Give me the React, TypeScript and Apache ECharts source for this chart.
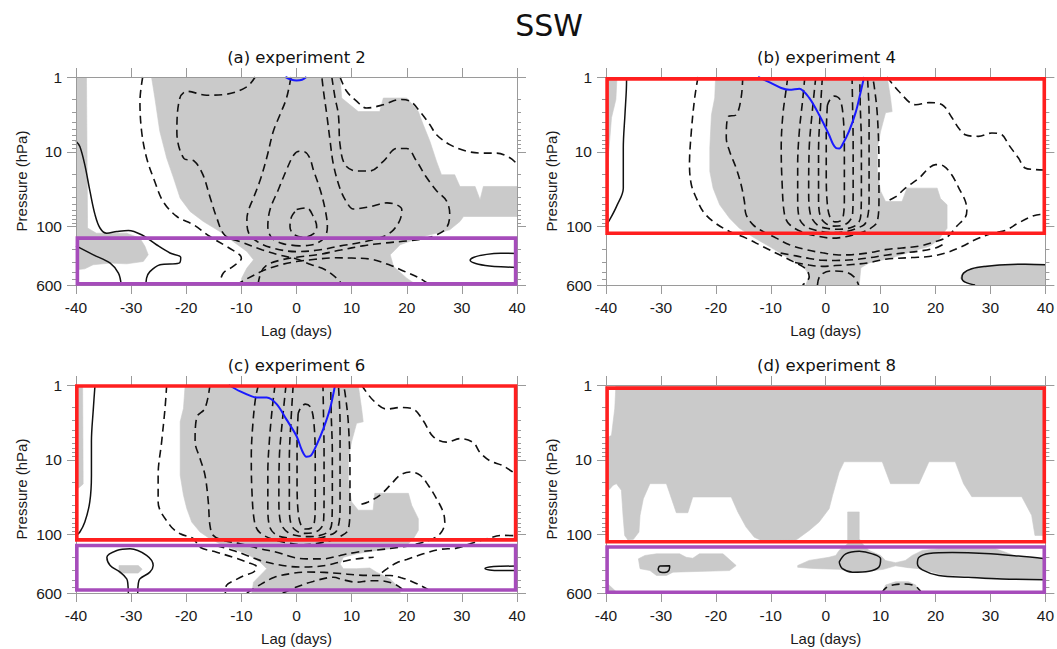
import React, { useEffect, useRef } from "react";
import * as echarts from "echarts";

// Axis ranges
const LAG_MIN = -40;
const LAG_MAX = 40;
const LAG_STEP = 10;
const P_MIN = 1;
const P_MAX = 600;
const MINOR_PRESSURES = [2, 3, 4, 5, 6, 7, 8, 9, 20, 30, 40, 50, 60, 70, 80, 90, 200, 300, 400, 500];

// ---------- (a) experiment 2 : [lag (days), pressure (hPa)] ----------
const aShadeLeft = [[-40, 1], [-38.1, 1], [-37.9, 104], [-36.3, 122], [-30.8, 122], [-28.4, 142], [-27.5, 182], [-26.9, 237], [-27.8, 291], [-30.8, 313], [-33.8, 306], [-36.9, 322], [-38.4, 365], [-40, 376]];
const aShadeMain = [[-26.3, 1], [-25.7, 1.9], [-24.8, 5.3], [-23.55, 12.1], [-22.3, 22.4], [-21.1, 41.5], [-19.3, 62.5], [-16.9, 85], [-13.9, 116], [-11.5, 157], [-9, 214], [-7.8, 277], [-9, 357], [-9.95, 486], [-9.95, 600], [21.8, 600], [20, 486], [17.6, 339], [17, 237], [18.8, 174], [23, 135], [27.8, 110], [29.65, 85], [30.3, 73], [40, 73], [40, 29], [33.9, 29], [33.3, 43.6], [32.4, 29], [29.65, 29], [28.7, 20.2], [26.3, 20.2], [25.4, 13.4], [24.2, 7.2], [23, 4.35], [22.1, 2.9], [20, 1.91], [15.75, 1.91], [15.1, 2.9], [11.2, 2.9], [8.2, 1.91], [7.9, 1]];
const aSolid1 = [[-40, 7.2], [-39.3, 8.45], [-38.4, 14.9], [-37.46, 33.8], [-36.55, 69], [-35.65, 104], [-34.44, 122], [-32.6, 116], [-30.5, 112], [-28.1, 128], [-25.4, 174], [-22.95, 224], [-21, 257], [-21.3, 306], [-24.76, 322], [-26.6, 398], [-27.2, 486], [-27.3, 600]];
const aSolid2 = [[-40, 180], [-36.85, 237], [-33.8, 306], [-32.3, 417], [-31.8, 600]];
const aSolid3 = [[40, 228], [37, 226], [34.5, 234], [32.2, 255], [31.5, 280], [32.5, 310], [35, 335], [38, 345], [40, 350]];
const aDash1 = [[-27.9, 1], [-28.4, 2.1], [-28.1, 5.3], [-27.2, 12], [-25.7, 25], [-24.2, 46], [-21.7, 73], [-18.7, 94], [-15.7, 135], [-12.7, 183], [-10.3, 237], [-10, 263], [-11.5, 339], [-13.3, 417], [-14, 600]];
const aDash2 = [[-7.5, 1], [-9, 1.35], [-12.7, 1.7], [-16.3, 1.75], [-19.9, 1.55], [-21.2, 1.95], [-21.7, 5.5], [-20.4, 12.3], [-18.6, 13.2], [-17, 20], [-15.7, 40], [-14.5, 75], [-13, 130], [-10, 160], [-6.3, 203], [-3, 240], [0, 270], [2.7, 322], [5.2, 376], [7.6, 511], [8.3, 600]];
const aDash3 = [[-11, 600], [-9.3, 510], [-5.7, 376], [-2.7, 320], [0, 292], [3.4, 272], [7, 260], [10, 262], [13.6, 272], [16.7, 320], [19.4, 390], [22.4, 490], [24.2, 600]];
const aDash4 = [[-1, 1], [-1.8, 1.9], [-3, 3.2], [-4.2, 5.3], [-5.4, 12], [-6.6, 24], [-7.8, 41], [-8.7, 60], [-9, 80], [-8.7, 120], [-7, 160], [-4, 195], [0, 215], [4, 205], [8, 180], [12, 160], [15.75, 135], [17.6, 110], [18.8, 80], [19.1, 59], [18.2, 51], [16.4, 48], [13.3, 54], [10.3, 58], [9.1, 47], [7.9, 31], [6.7, 14.8], [6.1, 7.2], [5.5, 3.2], [4.9, 1.55], [4.6, 1]];
const aDash5 = [[7.9, 1], [9.1, 1.55], [10.9, 2.1], [12.7, 2.6], [15.75, 2.35], [18.8, 2.0], [20.6, 2.1], [22.4, 2.9], [24.2, 4.35], [25.4, 5.9], [27.8, 8], [30.9, 9.8], [33.9, 10.4], [36.3, 10.4], [38.7, 12], [40, 14.5]];
const aDash6 = [[6.4, 1], [7, 1.9], [7.6, 3.2], [7.9, 8], [8.8, 14.8], [10.9, 18], [13.3, 18], [15.75, 13.4], [18.2, 9], [20, 9], [21.8, 13.4], [23.6, 22], [25.4, 33], [27.2, 45], [27.8, 68], [27.2, 104], [25.4, 128], [23, 145], [20, 155], [16, 165], [12, 180], [8, 205], [4, 235], [0, 255], [-3, 280], [-5.5, 330], [-6.5, 420], [-7, 600]];
const aDash7 = [[0.5, 180], [-2.5, 168], [-4.5, 140], [-5.2, 99], [-4.8, 59], [-3.3, 32], [-1.8, 17.3], [-0.5, 11], [0.5, 9.8], [1.5, 10], [2.4, 12], [3.05, 17.3], [4.3, 32], [5.2, 59], [5.6, 99], [5.2, 135], [3.8, 165], [2, 178], [0.5, 180]];
const aDash8 = [[0.03, 59], [1.84, 56], [3.05, 73], [3.66, 100], [3.05, 125], [1.24, 138], [-0.57, 125], [-1.18, 100], [-0.88, 73], [0.03, 59]];
const aBlue = [[-2, 1], [-1, 1.08], [0, 1.11], [1, 1.09], [1.8, 1]];
const aTropBox = [-39.75, 39.75, 142, 580];

// ---------- (b) experiment 4 ----------
const bShadeLeft = [[-40, 1], [-38, 1], [-38.2, 2], [-39, 3.5], [-39.5, 10], [-39.8, 60], [-40, 100]];
const bShadeMain = [[-20.05, 1], [-20.2, 1.9], [-20.8, 3.2], [-21.1, 8.9], [-21.1, 18.2], [-20.5, 30.5], [-19.3, 51], [-17.5, 77], [-15.7, 105], [-13.3, 136], [-10.25, 184], [-7.2, 251], [-4.2, 325], [-3, 443], [-3.6, 600], [6.1, 600], [6.4, 354], [7.9, 304], [12.1, 260], [15.75, 212], [18.8, 184], [20.6, 149], [21.2, 128], [22.1, 105], [22.1, 51], [20.9, 42], [20.3, 30.5], [14.8, 30.5], [13.9, 46], [10.9, 46], [10, 33.5], [9.4, 18.2], [9.4, 8.9], [10, 5.3], [10.9, 3], [12.1, 2.9], [11.8, 1.9], [11.2, 1]];
const bShadeOval = [[40, 318], [36.3, 312], [32.7, 318], [29, 333], [26.6, 358], [25, 410], [24.5, 486], [25.2, 550], [27, 600], [40, 600]];
const bSolid1 = [[-36.25, 1], [-36.3, 1.5], [-36.55, 3.2], [-36.85, 8.9], [-36.85, 30.5], [-38.06, 53], [-39.3, 80], [-40, 97]];
const bSolid2 = [[40, 322], [36.3, 316], [32.7, 322], [29.05, 339], [26.6, 365], [25.1, 417], [24.8, 486], [25.4, 550], [27.2, 600]];
const bDash1 = [[-23.25, 1], [-23.85, 1.9], [-24.46, 5.3], [-24.8, 14.8], [-24.46, 27.5], [-23.55, 41.5], [-22.35, 62], [-20.5, 85], [-17.5, 116], [-14.5, 142], [-11.5, 183], [-8.4, 237], [-6, 290], [-3.6, 367], [-3, 470], [-4.2, 600]];
const bDash2 = [[-15.1, 1], [-15.4, 1.9], [-16.3, 3.2], [-17.8, 3.4], [-18.1, 6.5], [-17.5, 9.8], [-16.3, 16.5], [-15.4, 27.5], [-14.8, 46], [-14.5, 68.5], [-13.3, 93], [-11.5, 115], [-9, 142], [-6.6, 174], [-3.6, 202], [-0.6, 223], [2.4, 238], [4.9, 236], [7.9, 223], [10.9, 202], [13.9, 192], [17, 182], [20, 158], [21.8, 142], [22.7, 125], [23.9, 98], [25.4, 75], [25.7, 61], [25.4, 45], [24.2, 30], [23, 20.5], [21.5, 15.5], [20, 14.8], [18.8, 16.4], [17, 22.4], [14.5, 30.5], [12.7, 40], [10.9, 46]];
const bDash3 = [[11.2, 1], [13.3, 1.55], [16.4, 2.35], [18.8, 2.2], [21.2, 2.35], [23, 3.5], [24.2, 4.8], [25.4, 5.9], [27.8, 6.2], [30.25, 5.6], [32.1, 5.9], [33.3, 8], [35.1, 12.1], [36.3, 16.4], [38.1, 17.2], [40, 17.5]];
const bDash4 = [[-5.6, 300], [-3, 325], [-0.6, 338], [1.8, 330], [4.9, 320], [7.9, 302], [10.9, 272], [15.75, 258], [18.8, 250], [21.8, 225], [24.8, 184], [27.2, 149], [30.3, 122], [32.7, 112], [35.1, 89], [37.5, 73], [39, 68.5], [40, 70]];
const bDash5 = [[-8.2, 225], [-5.4, 245], [-3, 265], [-0.6, 280], [1.8, 282], [4.9, 276], [7.9, 260], [10.9, 240], [13.9, 225], [17, 212], [20, 192], [21.5, 170]];
const bDash6 = [[-1.5, 600], [-1, 450], [1, 390], [3.5, 400], [5.2, 470], [6, 600]];
const bU1 = [[-6.9, 1], [-7.2, 1.47], [-7.8, 3.2], [-8.1, 8.9], [-7.95, 24.6], [-7.5, 68.5], [-6.6, 93], [-4.2, 118], [-1.2, 135], [1.2, 142], [3.65, 136], [6.1, 122], [7.9, 108], [9.4, 85], [9.7, 41.5], [9.7, 14.8], [9.4, 3.2], [8.8, 1.27], [8.5, 1]];
const bU2 = [[-3.8, 1], [-4.2, 2.05], [-4.8, 5.3], [-5.1, 14.8], [-5.1, 41.5], [-4.8, 77], [-3.6, 100], [-1.2, 114], [1.2, 120], [3.65, 116], [5.5, 106], [7.3, 88], [7.9, 41.5], [7.9, 14.8], [7.9, 3.2], [7.6, 1]];
const bU3 = [[-1.8, 1], [-2.5, 3.2], [-3, 8.9], [-3.1, 33], [-2.8, 68], [-1.5, 95], [0.5, 106], [2.5, 108], [4.5, 103], [5.9, 90], [6.4, 70], [6.5, 30], [6.5, 8], [6.3, 2.5], [6.2, 1]];
const bU4 = [[-0.6, 1], [-1, 3], [-1.3, 10], [-1.3, 40], [-1, 72], [0, 90], [1.5, 98], [3, 96], [4.2, 86], [4.9, 68], [5, 30], [5, 8], [4.9, 2.5], [4.8, 1]];
const bU5 = [[0.3, 2.4], [0.1, 6], [0.1, 20], [0.3, 50], [0.8, 75], [1.7, 86], [2.6, 84], [3.2, 72], [3.4, 40], [3.4, 10], [3.2, 3.5], [2.6, 2], [1.6, 1.8], [0.8, 2], [0.3, 2.4]];
const bBlue = [[-12.3, 1], [-10, 1.2], [-8.1, 1.4], [-6.6, 1.48], [-4.8, 1.43], [-3, 1.9], [-1.2, 3.2], [0.6, 5.9], [1.3, 7.8], [1.9, 8.9], [2.5, 9], [3.05, 8], [4.26, 5.3], [5.5, 2.9], [6.4, 1.55], [7, 1]];
const bStratBox = [-39.8, 39.8, 1.06, 122];

// ---------- (c) experiment 6 ----------
const cShadeLeft = [[-40, 1], [-38.8, 1], [-38.7, 21], [-39.3, 23], [-40, 25]];
const cShadeMain = [[-20.2, 1], [-20.5, 2.05], [-21.1, 3.1], [-21.1, 16], [-20.5, 29.7], [-19.9, 44.7], [-19, 67.8], [-17.5, 92], [-15.7, 113], [-13.9, 132], [-11.5, 154], [-9, 180], [-6.6, 232], [-5.4, 284], [-6.6, 350], [-7.8, 430], [-8.1, 600], [18.8, 600], [18.8, 527], [17, 390], [14.5, 316], [13.3, 278], [10.9, 284], [8.5, 284], [7.9, 246], [8.5, 200], [10.9, 180], [14.5, 162], [17, 154], [20, 139], [21.2, 113], [22.1, 87.6], [22.1, 61], [20.9, 40.4], [20.3, 28], [14.2, 28], [13.9, 47], [11.2, 47], [10, 36.5], [9.4, 19.7], [9.4, 9.6], [10, 5.7], [10.9, 3.25], [12.1, 3.1], [11.8, 2.05], [11.2, 1]];
const cShadeBlob = [[-32.2, 258], [-28.7, 258], [-28, 288], [-28.7, 325], [-32.2, 325]];
const cSolid1 = [[-36.55, 1], [-36.85, 2.05], [-37.2, 5.7], [-37.2, 16], [-37.5, 36.5], [-38.4, 67.8], [-39.3, 92], [-40, 102]];
const cSolid2 = [[-30.5, 600], [-30.6, 450], [-30.8, 388], [-32, 316], [-33.8, 258], [-34.4, 200], [-32.6, 162], [-30.2, 154], [-27.2, 189], [-26, 258], [-26.6, 316], [-28.4, 388], [-28.7, 450], [-28.8, 600]];
const cSolid3 = [[40, 262], [37, 264], [35, 270], [34.2, 282], [35, 295], [37, 300], [40, 300]];
const cDash1 = [[-23.55, 1], [-23.85, 2.05], [-24.46, 5.7], [-25.1, 16], [-25.1, 36.5], [-22.95, 75], [-21.1, 97], [-18.7, 113], [-17.5, 147], [-14.5, 171], [-11.5, 200], [-9, 232], [-7.2, 270], [-7.8, 316], [-9.5, 350], [-11, 400], [-12.7, 475], [-12.9, 600]];
const cDash2 = [[-15.7, 1], [-16.6, 2.05], [-18.1, 2.7], [-18.4, 5.7], [-17.5, 9.6], [-16.6, 16], [-16, 36.5], [-15.7, 75], [-15.1, 102], [-13.3, 119], [-10.25, 132], [-6.6, 154], [-3.6, 171], [-0.6, 200], [1.8, 210], [4.9, 210], [7.9, 189], [10.9, 171], [14.5, 160], [18.5, 148], [21.5, 135], [24.8, 113], [26.3, 92], [26.9, 68], [26.6, 49.6], [25.4, 33], [23.9, 21.8], [22.4, 16], [20.6, 14.5], [18.8, 16], [17, 21.8], [15.1, 29.7], [13, 36.5], [11.2, 40.4]];
const cDash3 = [[11.8, 1], [13.9, 1.6], [16.4, 2.1], [18.8, 2.0], [21.2, 2.1], [23, 3.0], [24.8, 4.9], [27.2, 5.8], [29.7, 5.2], [32.1, 5.9], [33.3, 8.0], [35.1, 10.3], [37.5, 12], [40, 16]];
const cDash4 = [[-14.5, 140], [-11.5, 162], [-9, 189], [-6.6, 220], [-4.2, 244], [-1.8, 262], [0.6, 270], [3, 268], [5.5, 255], [7.9, 232], [10, 215], [12, 205], [14, 200]];
const cDash5 = [[-9, 600], [-6.5, 460], [-4, 370], [-1, 330], [2, 315], [5, 318], [8, 330], [11, 345], [14, 350], [17, 350], [19, 375], [21.2, 430], [23.6, 527], [24.5, 600]];
const cDash6 = [[-2.5, 600], [0, 500], [3, 420], [6.7, 370], [8.5, 400], [10.9, 430], [13.3, 412], [15.1, 412], [17.6, 450], [19, 520], [19.5, 600]];
const cDash7 = [[15.5, 320], [16.4, 285], [18.2, 237], [20, 214], [23, 180], [26, 157], [29, 151], [31.5, 132], [34.5, 113], [37.5, 102], [40, 103]];
const cU1 = [[-6.9, 1], [-7.4, 1.45], [-7.9, 3.2], [-8.2, 8.9], [-8.1, 24.6], [-7.6, 68.5], [-6.7, 93], [-4.2, 116], [-1.2, 130], [1.2, 136], [3.65, 131], [6.1, 120], [7.9, 106], [9.4, 85], [9.7, 41.5], [9.7, 14.8], [9.4, 3.2], [8.8, 1.27], [8.5, 1]];
const cU2 = [[-3.9, 1], [-4.4, 2.05], [-4.9, 5.3], [-5.2, 14.8], [-5.2, 41.5], [-4.9, 77], [-3.7, 100], [-1.2, 112], [1.2, 117], [3.65, 113], [5.5, 104], [7.3, 88], [7.9, 41.5], [7.9, 14.8], [7.9, 3.2], [7.6, 1]];
const cU3 = [[-1.9, 1], [-2.6, 3.2], [-3.1, 8.9], [-3.2, 33], [-2.9, 68], [-1.5, 94], [0.5, 104], [2.5, 106], [4.5, 101], [5.9, 89], [6.4, 70], [6.5, 30], [6.5, 8], [6.3, 2.5], [6.2, 1]];
const cU4 = [[-0.6, 1], [-1, 3], [-1.3, 10], [-1.3, 40], [-1, 72], [0, 89], [1.5, 96], [3, 94], [4.2, 85], [4.9, 68], [5, 30], [5, 8], [4.9, 2.5], [4.8, 1]];
const cU5 = [[0.3, 2.4], [0.1, 6], [0.1, 20], [0.3, 50], [0.8, 74], [1.7, 84], [2.6, 82], [3.2, 71], [3.4, 40], [3.4, 10], [3.2, 3.5], [2.6, 2], [1.6, 1.8], [0.8, 2], [0.3, 2.4]];
const cBlue = [[-12.3, 1], [-10.2, 1.22], [-8.1, 1.42], [-7.2, 1.47], [-5.4, 1.47], [-3.6, 1.8], [-1.8, 2.9], [0, 4.8], [1, 7.5], [1.8, 9.1], [2.6, 8.8], [3.65, 6.3], [4.9, 3.8], [6.1, 2.05], [7, 1]];
const cStratBox = [-39.85, 39.75, 1.03, 117];
const cTropBox = [-39.85, 39.75, 139, 548];

// ---------- (d) experiment 8 ----------
const dShadeTop = [[-38.2, 1], [40, 1], [40, 102], [38.1, 102], [37.5, 55], [35.7, 31], [26.6, 31], [25.1, 20.8], [23.6, 10.6], [18.8, 10.6], [17, 20.8], [11.8, 20.8], [10.3, 10.6], [3.35, 10.6], [2.45, 14.5], [1.24, 30], [0.63, 44.8], [-1.2, 67.8], [-3, 87.6], [-5.4, 118], [-11.5, 121], [-13, 108], [-14.5, 79], [-16, 49.6], [-17.2, 31.3], [-24.2, 31.3], [-25.1, 50.8], [-27.2, 50.8], [-29, 20.8], [-32, 20.8], [-33.2, 33], [-33.8, 55], [-34, 92], [-35, 115], [-36, 118], [-36.6, 102], [-36.9, 55], [-37.2, 25.5], [-38.1, 20.8], [-38.7, 21.8], [-40, 28], [-40, 5.2], [-39, 4.7], [-38.4, 2.05]];
const dShadeBandLeft = [[-34.1, 210], [-32.9, 189], [-30.8, 180], [-26.6, 180], [-25.4, 200], [-24.2, 206], [-23, 180], [-18.7, 180], [-16.3, 258], [-17.5, 301], [-27.8, 316], [-29, 350], [-30.8, 350], [-32, 301], [-33.8, 284]];
const dShadeBandRight = [[-5.1, 258], [-3, 220], [0.6, 200], [1.84, 189], [2.45, 162], [4, 132], [4, 49.6], [6.1, 49.6], [6.1, 113], [6.7, 132], [7.9, 162], [10, 189], [10.9, 221], [12.7, 236], [14.5, 221], [15.75, 189], [17.6, 162], [20.6, 154], [30.9, 154], [32.7, 171], [35.1, 200], [40, 210], [40, 398], [29, 390], [26, 350], [21.8, 350], [17, 284], [15, 275], [12.7, 260], [10.5, 290], [7.9, 305], [4.9, 310], [2.45, 290], [-1.18, 284], [-3, 280], [-5.1, 272]];
const dShadeCorner = [[-40, 430], [-38, 590], [-40, 590]];
const dShadeBump = [[10.3, 600], [10.9, 470], [12.7, 425], [15.1, 425], [16.4, 470], [17, 600]];
const dSolid1 = [[-30.3, 262], [-28.4, 260], [-28.5, 295], [-29.3, 320], [-30, 318], [-30.5, 290], [-30.3, 262]];
const dSolid2 = [[2.45, 232], [3.65, 180], [6.1, 166], [8.5, 180], [10, 210], [9.7, 270], [7.9, 307], [4.9, 316], [3.05, 284], [2.45, 232]];
const dSolid3 = [[40, 210], [35.1, 193], [29, 178], [23, 173], [18.8, 178], [17, 200], [16.7, 243], [17.6, 295], [20.6, 350], [26, 370], [32.1, 390], [40, 398]];
const dDash1 = [[10.2, 600], [11, 510], [12.5, 465], [14.5, 455], [16.2, 480], [17.2, 560], [17.4, 600]];
const dStratBox = [-39.8, 39.8, 1.1, 124];
const dTropBox = [-39.8, 39.8, 146, 586];

// ---------- styling ----------
const SHADE = "#cacaca";
const AXIS_COLOR = "#9a9a9a";
const TEXT_COLOR = "#1a1a1a";
const RED = "#ff1f1f";
const PURPLE = "#a64cbb";
const BLUE = "#1a1aff";
const LABEL_FONT = "Liberation Sans";
const TITLE_FONT = "DejaVu Sans";
const DASH = [8, 5];

const panels = [
  {
    title: "(a) experiment 2",
    shades: [aShadeLeft, aShadeMain],
    solids: [aSolid1, aSolid2, aSolid3],
    dashes: [aDash1, aDash2, aDash3, aDash4, aDash5, aDash6, aDash7, aDash8],
    blue: aBlue,
    boxes: [{ box: aTropBox, color: PURPLE }],
  },
  {
    title: "(b) experiment 4",
    shades: [bShadeLeft, bShadeMain, bShadeOval],
    solids: [bSolid1, bSolid2],
    dashes: [bDash1, bDash2, bDash3, bDash4, bDash5, bDash6, bU1, bU2, bU3, bU4, bU5],
    blue: bBlue,
    boxes: [{ box: bStratBox, color: RED }],
  },
  {
    title: "(c) experiment 6",
    shades: [cShadeLeft, cShadeMain, cShadeBlob],
    solids: [cSolid1, cSolid2, cSolid3],
    dashes: [cDash1, cDash2, cDash3, cDash4, cDash5, cDash6, cDash7, cU1, cU2, cU3, cU4, cU5],
    blue: cBlue,
    boxes: [
      { box: cStratBox, color: RED },
      { box: cTropBox, color: PURPLE },
    ],
  },
  {
    title: "(d) experiment 8",
    shades: [dShadeTop, dShadeBandLeft, dShadeBandRight, dShadeCorner, dShadeBump],
    solids: [dSolid1, dSolid2, dSolid3],
    dashes: [dDash1],
    blue: null as number[][] | null,
    boxes: [
      { box: dStratBox, color: RED },
      { box: dTropBox, color: PURPLE },
    ],
  },
];

// pixel placement of the four plot frames
const frames = [
  { left: 76, top: 77 },
  { left: 606, top: 77 },
  { left: 76, top: 385 },
  { left: 606, top: 385 },
];
const FRAME_W = 441;
const FRAME_H = 208;

function rectPath(b: number[]) {
  const [x0, x1, p0, p1] = b;
  return [[x0, p0], [x1, p0], [x1, p1], [x0, p1], [x0, p0], [x1, p0]];
}

function buildOption() {
  const grid: any[] = [];
  const xAxis: any[] = [];
  const yAxis: any[] = [];
  const series: any[] = [];
  const graphic: any[] = [];
  const tickLine = { color: AXIS_COLOR, width: 1 };
  const minorLog = MINOR_PRESSURES.map((p) => Math.log10(p));

  graphic.push({
    type: "text",
    x: 549,
    y: 25,
    style: { text: "SSW", fontSize: 30, fontFamily: TITLE_FONT, fill: "#111", align: "center", verticalAlign: "middle" },
  });

  panels.forEach((pan, i) => {
    const f = frames[i];
    grid.push({ left: f.left, top: f.top, width: FRAME_W, height: FRAME_H, containLabel: false });
    graphic.push({
      type: "text",
      x: f.left + FRAME_W / 2,
      y: f.top - 19.5,
      style: { text: pan.title, fontSize: 16.5, fontFamily: TITLE_FONT, fill: "#111", align: "center", verticalAlign: "middle" },
    });

    const xi = xAxis.length;
    xAxis.push({
      gridIndex: i,
      type: "value",
      min: LAG_MIN,
      max: LAG_MAX,
      interval: LAG_STEP,
      position: "bottom",
      z: 10,
      axisLine: { show: true, onZero: false, lineStyle: tickLine },
      axisTick: { show: true, inside: false, length: 9, lineStyle: tickLine },
      axisLabel: { show: true, margin: 14, color: TEXT_COLOR, fontSize: 15.5, fontFamily: LABEL_FONT },
      splitLine: { show: false },
      name: "Lag (days)",
      nameLocation: "middle",
      nameGap: 38,
      nameTextStyle: { color: TEXT_COLOR, fontSize: 15, fontFamily: LABEL_FONT },
    });
    xAxis.push({
      gridIndex: i,
      type: "value",
      min: LAG_MIN,
      max: LAG_MAX,
      interval: LAG_STEP,
      position: "top",
      z: 10,
      axisLine: { show: true, onZero: false, lineStyle: tickLine },
      axisTick: { show: true, inside: false, length: 9, lineStyle: tickLine },
      axisLabel: { show: false },
      splitLine: { show: false },
    });

    const yi = yAxis.length;
    yAxis.push({
      gridIndex: i,
      type: "log",
      logBase: 10,
      min: P_MIN,
      max: P_MAX,
      inverse: true,
      position: "left",
      z: 10,
      axisLine: { show: true, onZero: false, lineStyle: tickLine },
      axisTick: { show: true, inside: false, length: 9, lineStyle: tickLine },
      axisLabel: { show: true, margin: 14, color: TEXT_COLOR, fontSize: 15.5, fontFamily: LABEL_FONT },
      splitLine: { show: false },
      name: "Pressure (hPa)",
      nameLocation: "middle",
      nameRotate: 90,
      nameGap: 47,
      nameTextStyle: { color: TEXT_COLOR, fontSize: 15, fontFamily: LABEL_FONT },
    });
    yAxis.push({
      gridIndex: i,
      type: "log",
      logBase: 10,
      min: P_MIN,
      max: P_MAX,
      inverse: true,
      position: "right",
      z: 10,
      axisLine: { show: true, onZero: false, lineStyle: tickLine },
      axisTick: { show: true, inside: false, length: 9, lineStyle: tickLine },
      axisLabel: { show: false },
      splitLine: { show: false },
    });
    // minor (2..9 per decade) ticks on both sides
    ["left", "right"].forEach((pos) => {
      yAxis.push({
        gridIndex: i,
        type: "value",
        min: 0,
        max: Math.log10(P_MAX),
        inverse: true,
        position: pos,
        z: 10,
        axisLine: { show: false, onZero: false },
        axisTick: { show: true, inside: false, length: 4, lineStyle: tickLine, customValues: minorLog },
        axisLabel: { show: false },
        splitLine: { show: false },
      });
    });

    pan.shades.forEach((poly) => {
      series.push({
        type: "custom",
        xAxisIndex: xi,
        yAxisIndex: yi,
        silent: true,
        clip: true,
        z: 1,
        data: poly,
        renderItem: (params: any, api: any) => {
          if (params.dataIndex !== 0) return null;
          return {
            type: "polygon",
            shape: { points: poly.map((pt) => api.coord(pt)) },
            style: { fill: SHADE, stroke: SHADE, lineWidth: 0.6 },
          };
        },
      });
    });

    const lineBase = {
      type: "line",
      xAxisIndex: xi,
      yAxisIndex: yi,
      showSymbol: false,
      symbol: "none",
      silent: true,
      clip: true,
      smooth: 0.35,
    };
    pan.dashes.forEach((pts) => {
      series.push({ ...lineBase, z: 3, data: pts, lineStyle: { color: "#111", width: 1.6, type: DASH } });
    });
    pan.solids.forEach((pts) => {
      series.push({ ...lineBase, z: 3, data: pts, lineStyle: { color: "#111", width: 1.5, type: "solid" } });
    });
    if (pan.blue) {
      series.push({ ...lineBase, z: 4, data: pan.blue, smooth: 0.3, lineStyle: { color: BLUE, width: 2, type: "solid" } });
    }
    pan.boxes.forEach((b) => {
      series.push({
        ...lineBase,
        smooth: false,
        clip: false,
        z: 12,
        data: rectPath(b.box),
        lineStyle: { color: b.color, width: 3.6, type: "solid", join: "miter", cap: "butt" },
      });
    });
  });

  return {
    animation: false,
    backgroundColor: "#ffffff",
    grid,
    xAxis,
    yAxis,
    series,
    graphic,
  };
}

export default function App() {
  const ref = useRef<HTMLDivElement>(null);
  useEffect(() => {
    if (!ref.current) return;
    const chart = echarts.init(ref.current, undefined, { renderer: "svg" });
    chart.setOption(buildOption() as any);
    return () => chart.dispose();
  }, []);
  return (
    <div
      ref={ref}
      style={{ position: "absolute", left: 0, top: 0, width: 1057, height: 649, background: "#fff" }}
    />
  );
}
